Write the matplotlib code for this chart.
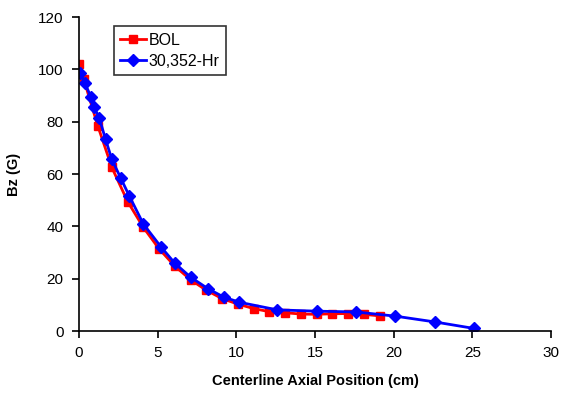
import matplotlib.pyplot as plt

plt.rcParams['font.family'] = ['Liberation Sans', 'DejaVu Sans']

# BOL measurement (red)
bol_x = [0.0, 0.3, 1.2, 2.1, 3.1, 4.1, 5.1, 6.1, 7.1, 8.1, 9.1,
         10.1, 11.1, 12.1, 13.1, 14.1, 15.1, 16.1, 17.1, 18.1, 19.1]
bol_bz = [102.0, 96.5, 78.5, 62.5, 49.5, 39.6, 31.4, 24.8, 19.6, 15.6, 12.4,
          10.3, 8.6, 7.4, 7.0, 6.5, 6.4, 6.6, 6.7, 6.4, 5.8]

# 30,352-Hr measurement (blue)
hr_x = [0.1, 0.4, 0.75, 0.95, 1.3, 1.7, 2.1, 2.65, 3.2, 4.1, 5.2, 6.1,
        7.1, 8.2, 9.2, 10.2, 12.6, 15.1, 17.6, 20.1, 22.6, 25.1]
hr_bz = [98.5, 94.7, 89.6, 85.8, 81.4, 73.2, 65.6, 58.6, 51.7, 40.9, 32.3, 25.9,
         20.6, 16.2, 13.0, 11.0, 8.1, 7.6, 7.3, 5.7, 3.5, 1.0]

fig = plt.figure(figsize=(5.67, 3.96), dpi=100)
ax = fig.add_axes([0.139, 0.164, 0.833, 0.793])

ax.plot(bol_x, bol_bz, color='#ff0000', lw=2.0, marker='s', ms=6,
        mfc='#ff0000', mec='#ff0000', label='BOL')
ax.plot(hr_x, hr_bz, color='#0000ff', lw=2.0, marker='D', ms=6,
        mfc='#0000ff', mec='#0000ff', label='30,352-Hr')

ax.set_xlim(0, 30)
ax.set_ylim(0, 120)
ax.set_xticks(range(0, 31, 5))
ax.set_yticks(range(0, 121, 20))
ax.spines['top'].set_visible(False)
ax.spines['right'].set_visible(False)
for s in ('left', 'bottom'):
    ax.spines[s].set_linewidth(1.2)
    ax.spines[s].set_clip_on(False)
ax.tick_params(direction='out', length=5, width=1.2, labelsize=11, pad=6)

ax.set_xlabel('Centerline Axial Position (cm)', fontsize=10.5, fontweight='bold', labelpad=10)
ax.set_ylabel('Bz (G)', fontsize=10.5, fontweight='bold', labelpad=12)

leg = ax.legend(loc='upper left', bbox_to_anchor=(0.074, 0.971), borderaxespad=0,
                fontsize=11.5, frameon=True, fancybox=False, edgecolor='black',
                handlelength=1.6, handletextpad=0.2, borderpad=0.4, labelspacing=0.4)
leg.get_frame().set_linewidth(1.2)

fig.savefig('out.png', dpi=100)
